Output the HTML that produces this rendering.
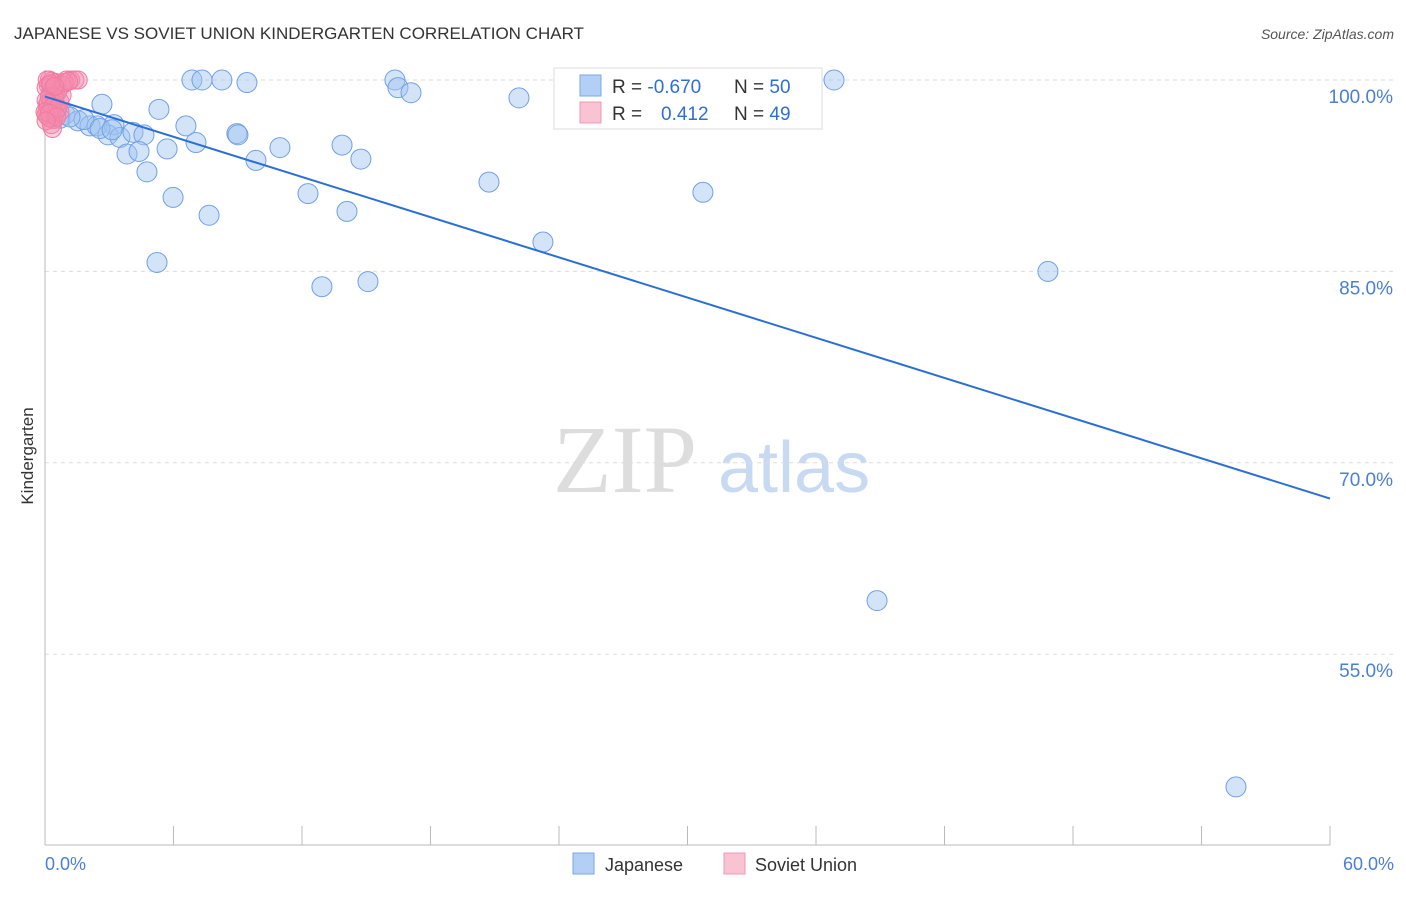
<!DOCTYPE html>
<html><head><meta charset="utf-8"><style>
body{margin:0;background:#fff;font-family:"Liberation Sans",sans-serif}
</style></head><body>
<svg id="chart" width="1406" height="892" xmlns="http://www.w3.org/2000/svg" font-family="Liberation Sans, sans-serif">
<text x="14" y="39" font-size="17" fill="#333">JAPANESE VS SOVIET UNION KINDERGARTEN CORRELATION CHART</text>
<text x="1394" y="39" font-size="14" fill="#555" text-anchor="end" font-style="italic">Source: ZipAtlas.com</text>
<g>
<text x="553" y="492" font-size="96" fill="#ddd" font-family="Liberation Serif, serif">ZIP</text>
<text x="718" y="492" font-size="72" fill="#c8d9f2">atlas</text>
</g>
<g id="grid"></g>
<line x1="45" y1="70" x2="45" y2="845" stroke="#bbb"/>
<line x1="45" y1="845" x2="1330" y2="845" stroke="#bbb"/>
<g id="xticks"></g>
<text transform="translate(33,456) rotate(-90)" font-size="17" fill="#333" text-anchor="middle">Kindergarten</text>
<text x="45" y="870" font-size="18" fill="#4a7fd6">0.0%</text>
<text x="1394" y="870" font-size="18" fill="#4a7fd6" text-anchor="end">60.0%</text>
<g id="pts"></g>
<g>
<rect x="554" y="68" width="268" height="61" fill="#fff" stroke="#ddd"/>
<rect x="580" y="75" width="21" height="21" fill="#b3cff5" stroke="#7aaae8"/>
<rect x="580" y="102" width="21" height="21" fill="#f9c3d3" stroke="#f09ab5"/>
<text x="612" y="93" font-size="19" fill="#333">R = <tspan fill="#2e6fd6">-0.670</tspan></text>
<text x="734" y="93" font-size="19" fill="#333">N = <tspan fill="#2e6fd6">50</tspan></text>
<text x="612" y="120" font-size="19" fill="#333">R = <tspan fill="#2e6fd6" x="661">0.412</tspan></text>
<text x="734" y="120" font-size="19" fill="#333">N = <tspan fill="#2e6fd6">49</tspan></text>
</g>
<g>
<rect x="573" y="853" width="21" height="21" fill="#b3cff5" stroke="#7aaae8"/>
<text x="605" y="871" font-size="18" fill="#333">Japanese</text>
<rect x="724" y="853" width="21" height="21" fill="#f9c3d3" stroke="#f09ab5"/>
<text x="755" y="871" font-size="18" fill="#333">Soviet Union</text>
</g>
</svg>
<script>
const yTicks=[100,85,70,55];
const yTickLabels=["100.0%","85.0%","70.0%","55.0%"];
const japaneseX=[2.66,5.32,0.93,0.70,1.54,2.10,2.43,1.82,3.22,2.94,3.50,4.11,4.62,3.83,4.39,5.70,4.76,5.98,6.58,7.05,7.66,6.86,7.33,8.26,9.43,8.96,9.01,9.85,10.97,12.28,12.93,13.87,14.10,14.75,15.08,5.23,16.34,16.48,17.09,20.73,22.13,23.25,30.72,36.84,46.83,38.85,55.61,1.17,2.57,3.13];
const japaneseY=[98.1,97.7,97.3,97.0,96.8,96.4,96.4,96.9,96.5,95.7,95.5,95.9,95.7,94.2,94.4,94.6,92.8,90.8,96.4,95.1,89.4,100,100,100,99.8,95.8,95.7,93.7,94.7,91.1,83.8,94.9,89.7,93.8,84.2,85.7,100,99.4,99.0,92.0,98.6,87.3,91.2,100,85.0,59.2,44.6,97.1,96.2,96.1];
const sovietX=[0.2,0.3,0.5,0.15,0.4,0.6,0.25,0.5,0.2,0.45,0.7,0.1,0.35,0.55,0.25,0.45,0.15,0.4,0.3,0.35,1.0,1.2,1.4,1.55,0.8,0.6,0.05,0.2,0.3,0.5,0.1,0.7,0.05,0.25,0.45,0.8,0.9,1.1,0.1,0.25,0.45,0.05,0.15,0.35,0.6,0.0,0.2,0.55,0.05];
const sovietY=[100,99.9,99.8,99.6,99.4,99.2,99.0,98.8,98.6,98.4,98.3,98.0,97.8,97.6,97.4,97.3,97.1,96.9,96.5,96.2,100,100,100,100,99.6,99.1,99.4,98.7,98.3,98.1,97.6,97.5,97.3,97.0,98.6,98.8,99.8,99.9,100,99.7,99.5,98.4,98.2,97.9,97.8,97.5,97.4,97.1,96.8];
const trendX=[0,60];
const trendY=[98.7,67.2];
const ns="http://www.w3.org/2000/svg";
const sx=v=>45+v/60*1285;
const sy=v=>80+(100-v)*12.76;
const grid=document.getElementById('grid');
yTicks.forEach((t,i)=>{
  const l=document.createElementNS(ns,'line');
  
  
  l.setAttribute('x1',45);l.setAttribute('x2',1394);l.setAttribute('y1',sy(t));l.setAttribute('y2',sy(t));
  l.setAttribute('stroke','#ddd');l.setAttribute('stroke-dasharray','4,4');
  grid.appendChild(l);
  const tx=document.createElementNS(ns,'text');
  
  
  tx.setAttribute('x',1393);tx.setAttribute('y',sy(t)+23);
  tx.setAttribute('text-anchor','end');tx.setAttribute('font-size','19');tx.setAttribute('fill','#4a7fd6');
  tx.textContent=yTickLabels[i];
  grid.appendChild(tx);
});
const xt=document.getElementById('xticks');
for(let i=0;i<=10;i++){
  const l=document.createElementNS(ns,'line');
  
  
  const x=sx(i*6);
  l.setAttribute('x1',x);l.setAttribute('x2',x);l.setAttribute('y1',826);l.setAttribute('y2',845);
  l.setAttribute('stroke','#bbb');
  xt.appendChild(l);
}
const pts=document.getElementById('pts');
japaneseX.forEach((v,i)=>{
  const c=document.createElementNS(ns,'circle');
  
  
  c.setAttribute('cx',sx(v));c.setAttribute('cy',sy(japaneseY[i]));c.setAttribute('r',10);
  c.setAttribute('fill','rgba(160,196,240,0.45)');c.setAttribute('stroke','#6fa0e6');c.setAttribute('stroke-width','1');
  pts.appendChild(c);
});
sovietX.forEach((v,i)=>{
  const c=document.createElementNS(ns,'circle');
  
  
  c.setAttribute('cx',sx(v));c.setAttribute('cy',sy(sovietY[i]));c.setAttribute('r',9);
  c.setAttribute('fill','rgba(245,140,175,0.4)');c.setAttribute('stroke','#f07aa0');c.setAttribute('stroke-width','1');
  pts.appendChild(c);
});
const tl=document.createElementNS(ns,'line');


tl.setAttribute('x1',sx(trendX[0]));tl.setAttribute('y1',sy(trendY[0]));
tl.setAttribute('x2',sx(trendX[1]));tl.setAttribute('y2',sy(trendY[1]));
tl.setAttribute('stroke','#2a6fd6');tl.setAttribute('stroke-width','2');
pts.appendChild(tl);
</script>
</body></html>
